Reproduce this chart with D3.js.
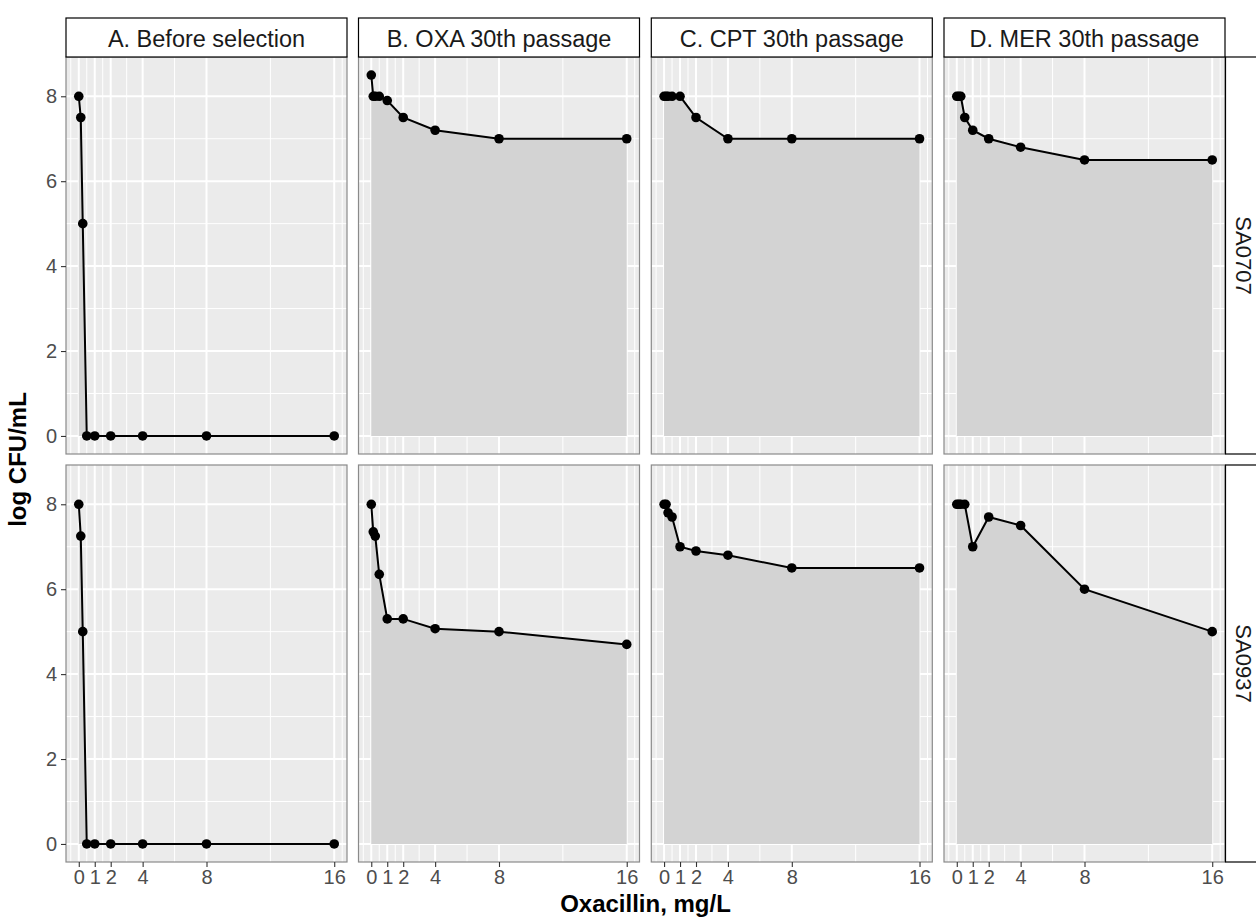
<!DOCTYPE html>
<html>
<head>
<meta charset="utf-8">
<script src="https://cdn.jsdelivr.net/npm/d3@7"></script>
<style>
  html, body { margin: 0; padding: 0; background: #ffffff; }
  svg { display: block; font-family: "Liberation Sans", Arial, Helvetica, sans-serif; }
</style>
</head>
<body>
<svg id="chart" width="1256" height="917"></svg>
<script>
// ---- data ----
const concentrations = [0, 0.125, 0.25, 0.5, 1, 2, 4, 8, 16];
const panelTitles = ["A. Before selection", "B. OXA 30th passage", "C. CPT 30th passage", "D. MER 30th passage"];
const strains = ["SA0707", "SA0937"];
const xTickValues = [0, 1, 2, 4, 8, 16];
const yTickValues = [0, 2, 4, 6, 8];

const beforeSA0707 = [8, 7.5, 5, 0, 0, 0, 0, 0, 0];
const oxaSA0707    = [8.5, 8, 8, 8, 7.9, 7.5, 7.2, 7, 7];
const cptSA0707    = [8, 8, 8, 8, 8, 7.5, 7, 7, 7];
const merSA0707    = [8, 8, 8, 7.5, 7.2, 7.0, 6.8, 6.5, 6.5];

const beforeSA0937 = [8, 7.25, 5, 0, 0, 0, 0, 0, 0];
const oxaSA0937    = [8, 7.35, 7.25, 6.35, 5.3, 5.3, 5.07, 5.0, 4.7];
const cptSA0937    = [8, 8, 7.8, 7.7, 7.0, 6.9, 6.8, 6.5, 6.5];
const merSA0937    = [8, 8, 8, 8, 7.0, 7.7, 7.5, 6.0, 5.0];

const seriesGrid = [
  [beforeSA0707, oxaSA0707, cptSA0707, merSA0707],
  [beforeSA0937, oxaSA0937, cptSA0937, merSA0937]
];

// ---- layout ----
const svg = d3.select("#chart");
const panelW = 281, panelH = 397;
const colLeft = [66, 358.5, 651.3, 944];
const rowTop = [57, 465];
const stripTop = 18;

const x = d3.scaleLinear().domain([-0.8, 16.8]).range([0, panelW]);
const y = d3.scaleLinear().domain([-0.425, 8.925]).range([panelH, 0]);

const xMinor = [-0.5, 0.5, 1.5, 3, 6, 12, 16.5];
const yMinor = [1, 3, 5, 7];

for (let r = 0; r < 2; r++) {
  for (let c = 0; c < 4; c++) {
    const g = svg.append("g").attr("transform", `translate(${colLeft[c]},${rowTop[r]})`);
    g.append("rect").attr("width", panelW).attr("height", panelH).attr("fill", "#EBEBEB");

    // minor grid
    g.selectAll(".vminor").data(xMinor).enter().append("line")
      .attr("x1", d => x(d)).attr("x2", d => x(d)).attr("y1", 0).attr("y2", panelH)
      .attr("stroke", "#ffffff").attr("stroke-width", 1);
    g.selectAll(".hminor").data(yMinor).enter().append("line")
      .attr("y1", d => y(d)).attr("y2", d => y(d)).attr("x1", 0).attr("x2", panelW)
      .attr("stroke", "#ffffff").attr("stroke-width", 1);
    // major grid
    g.selectAll(".vmajor").data(xTickValues).enter().append("line")
      .attr("x1", d => x(d)).attr("x2", d => x(d)).attr("y1", 0).attr("y2", panelH)
      .attr("stroke", "#ffffff").attr("stroke-width", 2);
    g.selectAll(".hmajor").data(yTickValues).enter().append("line")
      .attr("y1", d => y(d)).attr("y2", d => y(d)).attr("x1", 0).attr("x2", panelW)
      .attr("stroke", "#ffffff").attr("stroke-width", 2);

    const vals = seriesGrid[r][c];
    const pts = concentrations.map((cc, i) => [cc, vals[i]]);

    const area = d3.area().x(d => x(d[0])).y0(y(0)).y1(d => y(d[1]));
    g.append("path").datum(pts).attr("d", area).attr("fill", "#D3D3D3");

    const line = d3.line().x(d => x(d[0])).y(d => y(d[1]));
    g.append("path").datum(pts).attr("d", line).attr("fill", "none")
      .attr("stroke", "#000000").attr("stroke-width", 2);

    g.selectAll(".pt").data(pts).enter().append("circle")
      .attr("cx", d => x(d[0])).attr("cy", d => y(d[1])).attr("r", 4.8).attr("fill", "#000000");

    g.append("rect").attr("width", panelW).attr("height", panelH)
      .attr("fill", "none").attr("stroke", "#8a8a8a").attr("stroke-width", 1.2);

    // x axis on bottom row
    if (r === 1) {
      const ax = g.append("g").attr("transform", `translate(0,${panelH})`)
        .call(d3.axisBottom(x).tickValues(xTickValues).tickFormat(d3.format("d")).tickSize(5).tickPadding(3));
      ax.select(".domain").remove();
      ax.selectAll("line").attr("stroke", "#333333").attr("stroke-width", 1.1);
      ax.selectAll("text").attr("fill", "#4D4D4D").style("font-size", "20px");
    }
    // y axis on first column
    if (c === 0) {
      const ay = g.append("g")
        .call(d3.axisLeft(y).tickValues(yTickValues).tickFormat(d3.format("d")).tickSize(5).tickPadding(4));
      ay.select(".domain").remove();
      ay.selectAll("line").attr("stroke", "#333333").attr("stroke-width", 1.1);
      ay.selectAll("text").attr("fill", "#4D4D4D").style("font-size", "20px");
    }

    // top strips
    if (r === 0) {
      const sg = svg.append("g").attr("transform", `translate(${colLeft[c]},${stripTop})`);
      sg.append("rect").attr("width", panelW).attr("height", rowTop[0] - stripTop)
        .attr("fill", "#ffffff").attr("stroke", "#000000").attr("stroke-width", 1.2);
      sg.append("text").attr("x", panelW / 2).attr("y", (rowTop[0] - stripTop) / 2 + 1)
        .attr("text-anchor", "middle").attr("dominant-baseline", "central")
        .attr("fill", "#1A1A1A").style("font-size", "23.5px").text(panelTitles[c]);
    }
  }
  // right strips
  const rx = colLeft[3] + panelW + 0.5;
  const rg = svg.append("g").attr("transform", `translate(${rx},${rowTop[r]})`);
  rg.append("rect").attr("width", 60).attr("height", panelH)
    .attr("fill", "#ffffff").attr("stroke", "#000000").attr("stroke-width", 1.2);
  rg.append("text").attr("transform", `translate(17.5,${panelH / 2}) rotate(90)`)
    .attr("text-anchor", "middle").attr("dominant-baseline", "central")
    .attr("fill", "#1A1A1A").style("font-size", "22px").text(strains[r]);
}

// axis titles
const plotCenterX = (colLeft[0] + colLeft[3] + panelW) / 2;
svg.append("text").attr("x", plotCenterX).attr("y", 912)
  .attr("text-anchor", "middle").attr("font-weight", "bold").attr("fill", "#000000")
  .style("font-size", "24px").text("Oxacillin, mg/L");
svg.append("text").attr("transform", `translate(26,${(rowTop[0] + rowTop[1] + panelH) / 2}) rotate(-90)`)
  .attr("text-anchor", "middle").attr("font-weight", "bold").attr("fill", "#000000")
  .style("font-size", "24px").text("log CFU/mL");
</script>
</body>
</html>
